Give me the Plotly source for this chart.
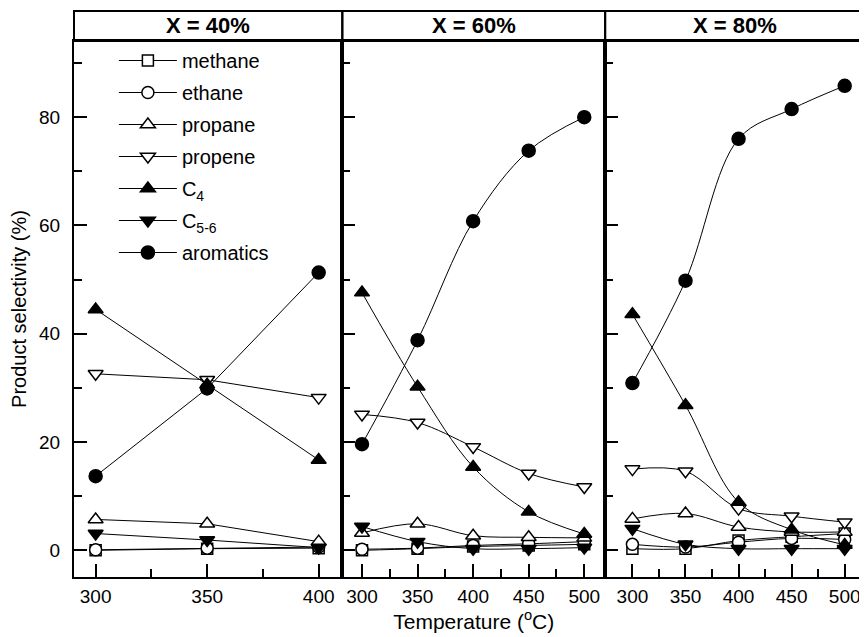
import plotly.graph_objects as go

# ---------------- data ----------------
temps_40 = [300, 350, 400]
temps = [300, 350, 400, 450, 500]

species = ["methane", "ethane", "propane", "propene", "C<sub>4</sub>", "C<sub>5-6</sub>", "aromatics"]

methane_40 = [0.0, 0.3, 0.4]
ethane_40 = [0.1, 0.4, 0.6]
propane_40 = [5.7, 4.9, 1.6]
propene_40 = [32.6, 31.5, 28.2]
c4_40 = [44.5, 30.6, 16.7]
c56_40 = [3.1, 1.9, 0.5]
arom_40 = [13.7, 29.9, 51.3]

methane_60 = [0.0, 0.3, 0.7, 0.9, 1.1]
ethane_60 = [0.2, 0.4, 0.9, 1.2, 1.6]
propane_60 = [3.2, 4.9, 2.7, 2.4, 2.3]
propene_60 = [25.1, 23.6, 19.1, 14.2, 11.7]
c4_60 = [47.6, 30.2, 15.4, 7.1, 3.0]
c56_60 = [4.4, 1.6, 0.3, 0.3, 0.5]
arom_60 = [19.6, 38.8, 60.8, 73.8, 80.0]

methane_80 = [0.3, 0.3, 1.8, 2.5, 3.1]
ethane_80 = [1.1, 0.6, 1.5, 2.2, 2.0]
propane_80 = [5.8, 6.8, 4.3, 3.4, 3.4]
propene_80 = [15.0, 14.6, 7.7, 6.3, 5.2]
c4_80 = [43.6, 26.8, 8.9, 3.8, 1.0]
c56_80 = [4.0, 1.1, 0.3, 0.3, 0.3]
arom_80 = [30.9, 49.8, 76.0, 81.5, 85.8]

panel_titles = ["X = 40%", "X = 60%", "X = 80%"]
y_ticks = [0, 20, 40, 60, 80]

panels = [
    (temps_40, [methane_40, ethane_40, propane_40, propene_40, c4_40, c56_40, arom_40]),
    (temps, [methane_60, ethane_60, propane_60, propene_60, c4_60, c56_60, arom_60]),
    (temps, [methane_80, ethane_80, propane_80, propene_80, c4_80, c56_80, arom_80]),
]

# ---------------- styles ----------------
symbols = ["square", "circle", "triangle-up", "triangle-down", "triangle-up", "triangle-down", "circle"]
fills = ["white", "white", "white", "white", "black", "black", "black"]
sizes = [11, 12, 13, 13, 13, 13, 13]

FONT = "Liberation Sans, Arial, Helvetica, sans-serif"
OFF = 8  # default page body margin
W, H = 867 - OFF, 637 - OFF
plot_left, plot_right = 74 - OFF, 866 - OFF
plot_top, plot_bottom = 41 - OFF, 577 - OFF
frame_top = 11 - OFF
ml, mr, mt, mb = plot_left, W - plot_right, frame_top, H - plot_bottom
pw = W - ml - mr
ph = H - mt - mb
px_bounds = [74 - OFF, 343 - OFF, 606.5 - OFF, 866 - OFF]
x_domains = [[(px_bounds[i] - ml) / pw, (px_bounds[i + 1] - ml) / pw] for i in range(3)]
y_top = (plot_bottom - plot_top) / ph
x_ranges = [[290.3, 410.6], [282.3, 518.8], [274.3, 518.2]]

fig = go.Figure()

for p, (xs, series) in enumerate(panels):
    ax = "" if p == 0 else str(p + 1)
    for k, ys in enumerate(series):
        fig.add_trace(go.Scatter(
            x=xs, y=ys, name=species[k],
            xaxis="x" + ax, yaxis="y" + ax,
            mode="lines+markers",
            line=dict(color="black", width=1, shape="linear" if p == 0 else "spline", smoothing=1.0),
            marker=dict(symbol=symbols[k], size=sizes[k], color=fills[k],
                        line=dict(color="black", width=1.5)),
            showlegend=(p == 0),
            legendgroup=species[k],
            cliponaxis=False,
        ))

axis_common = dict(showline=True, linecolor="black", linewidth=2, mirror=True,
                   ticks="inside", ticklen=13, tickwidth=2, tickcolor="black",
                   showgrid=False, zeroline=False,
                   tickfont=dict(family=FONT, size=19, color="black"))

for p in range(3):
    sfx = "" if p == 0 else str(p + 1)
    xa = dict(axis_common, domain=x_domains[p], range=x_ranges[p], anchor="y" + sfx,
              tickvals=[t for t in (temps_40 if p == 0 else temps)],
              minor=dict(ticks="inside", ticklen=8, tickwidth=2, tickcolor="black", dtick=25),
              ticklabelstandoff=1)
    ya = dict(axis_common, domain=[0, y_top], range=[-4.93, 94.07], anchor="x" + sfx,
              tickvals=y_ticks, showticklabels=(p == 0), ticklabelstandoff=8,
              minor=dict(ticks="inside", ticklen=8, tickwidth=2, tickcolor="black", dtick=10))
    if p == 1:
        xa["title"] = dict(text="Temperature (<sup>o</sup>C)", font=dict(family=FONT, size=21, color="black"),
                           standoff=0)
    if p == 0:
        ya["title"] = dict(text="Product selectivity (%)", font=dict(family=FONT, size=20, color="black"),
                           standoff=8)
    fig.layout["xaxis" + sfx] = xa
    fig.layout["yaxis" + sfx] = ya

shapes = []
annotations = []
for p in range(3):
    shapes.append(dict(type="rect", xref="paper", yref="paper",
                       x0=x_domains[p][0], x1=x_domains[p][1], y0=y_top, y1=1,
                       line=dict(color="black", width=2), fillcolor="rgba(0,0,0,0)"))
    annotations.append(dict(text="<b>" + panel_titles[p] + "</b>", xref="paper", yref="paper",
                            x=(x_domains[p][0] + x_domains[p][1]) / 2, y=(y_top + 1) / 2,
                            xanchor="center", yanchor="middle", showarrow=False,
                            font=dict(family=FONT, size=22, color="black")))

legend_top_px = 41 - OFF
fig.update_layout(
    width=W, height=H,
    margin=dict(l=ml, r=mr, t=mt, b=mb),
    paper_bgcolor="white", plot_bgcolor="white",
    shapes=shapes, annotations=annotations,
    font=dict(family=FONT, color="black"),
    showlegend=True,
    legend=dict(x=(114 - OFF - ml) / pw, y=(plot_bottom - legend_top_px) / ph, xanchor="left", yanchor="top",
                bgcolor="rgba(0,0,0,0)", borderwidth=0,
                font=dict(family=FONT, size=20, color="black"),
                traceorder="grouped", tracegroupgap=3, itemwidth=58),
)

fig.write_html("out.html")
